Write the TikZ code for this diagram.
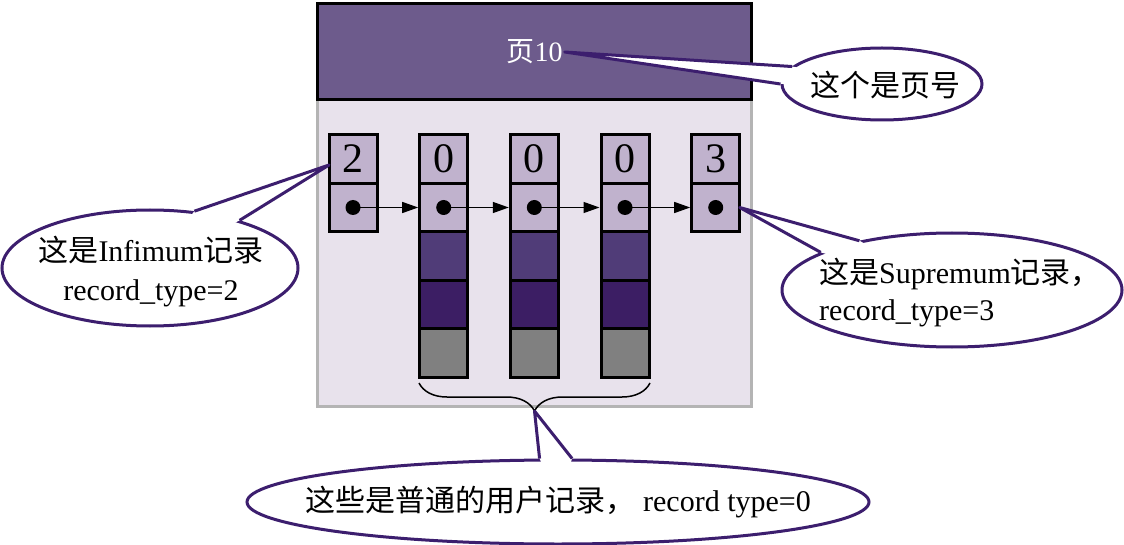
\documentclass[tikz,border=0pt]{standalone}
\usepackage{fontspec}
\setmainfont{Liberation Serif}
\newfontfamily\cjk{Noto Sans CJK SC}
\usetikzlibrary{calc,arrows.meta,decorations.pathreplacing,shapes.geometric}
\definecolor{hdrfill}{RGB}{109,91,140}
\definecolor{bodyfill}{RGB}{232,226,236}
\definecolor{bodyedge}{RGB}{180,180,180}
\definecolor{celllight}{RGB}{192,178,205}
\definecolor{celldarkA}{RGB}{80,60,120}
\definecolor{celldarkB}{RGB}{60,30,100}
\definecolor{cellgray}{RGB}{128,128,128}
\definecolor{cpur}{RGB}{60,30,110}
\tikzset{
  cellbox/.style={draw=black, line width=3pt, minimum width=48pt, minimum height=48.5pt, inner sep=0pt, outer sep=0pt},
  numcell/.style={cellbox, fill=celllight, font=\fontsize{42}{42}\selectfont},
  ptrcell/.style={cellbox, fill=celllight},
  dot/.style={circle, fill=black, minimum size=15pt, inner sep=0pt},
  link/.style={line width=1.3pt, -{Triangle[length=16pt,width=11pt]}, shorten >=1.5pt},
  callout/.style={ellipse, draw=cpur, line width=3pt, fill=white, inner sep=0pt},
  tailline/.style={draw=cpur, line width=3pt, line join=round},
  txt/.style={inner sep=0pt, font=\fontsize{30}{39}\selectfont},
}
\newcommand\calltail[4]{%
  \fill[white] (#4) -- (#1.#2) -- ($(#1.#2)!6pt!(#1.center)$) -- ($(#1.#3)!6pt!(#1.center)$) -- (#1.#3) -- cycle;
  \draw[tailline] (#1.#2) -- (#4) -- (#1.#3);}
\begin{document}
\begin{tikzpicture}[x=1pt,y=-1pt]
\useasboundingbox[fill=white] (0,0) rectangle (1124,545);
% page body and header
\draw[line width=3pt, draw=bodyedge, fill=bodyfill] (317.5,100) rectangle (751.5,406.5);
\draw[line width=3pt, draw=black, fill=hdrfill] (317.5,3.5) rectangle (751.5,100);
\node[font=\fontsize{28}{28}\selectfont, text=white, inner sep=2pt] (p10) at (534.5,52) {{\cjk 页}10};
% infimum record
\node[numcell] (r0t) at (353,159) {2};
\node[ptrcell] (r0p) at (353,207.5) {};
% user records
\foreach \i/\x in {1/443.7,2/534.3,3/625}{
  \node[numcell] (r\i t) at (\x,159) {0};
  \node[ptrcell] (r\i p) at (\x,207.5) {};
  \node[cellbox, fill=celldarkA] (r\i a) at (\x,256) {};
  \node[cellbox, fill=celldarkB] (r\i b) at (\x,304.5) {};
  \node[cellbox, fill=cellgray] (r\i c) at (\x,353) {};
}
% supremum record
\node[numcell] (r4t) at (715.7,159) {3};
\node[ptrcell] (r4p) at (715.7,207.5) {};
% pointers
\foreach \i in {0,...,4}{ \node[dot] (d\i) at (r\i p.center) {}; }
\draw[link] (d0.center) -- (r1p.west);
\draw[link] (d1.center) -- (r2p.west);
\draw[link] (d2.center) -- (r3p.west);
\draw[link] (d3.center) -- (r4p.west);
% brace
\draw[line width=1.5pt, decorate, decoration={brace, amplitude=28pt}] (650,383) -- (419,383);
\coordinate (bt) at (534.5,411);
% callouts
\coordinate (tipI) at ($(r0t.west)+(0,6)$);
\node[callout, minimum width=200pt, minimum height=72pt] (cb) at (882,84) {};
\calltail{cb}{169}{180}{p10.east}
\node[txt] (tB) at (885,85) {\cjk 这个是页号};
\node[callout, minimum width=296pt, minimum height=116pt] (ci) at (150,268) {};
\calltail{ci}{52.5}{28}{tipI}
\node[txt, align=center] (tI) at (151,272) {{\cjk 这是}Infimum{\cjk 记录}\\record\_type=2};
\node[callout, minimum width=340pt, minimum height=114pt] (cs) at (952,290) {};
\calltail{cs}{152.5}{164}{r4p.east}
\node[txt, align=left, anchor=west, font=\fontsize{30}{37}\selectfont] (tS) at (819,293) {{\cjk 这是}Supremum{\cjk 记录，}\\record\_type=3};
\node[callout, minimum width=622pt, minimum height=84pt] (cu) at (558,502) {};
\calltail{cu}{113}{72}{bt}
\node[txt] (tU) at (558,502) {{\cjk 这些是普通的用户记录，}\hspace{8pt}record type=0};
\end{tikzpicture}
\end{document}
